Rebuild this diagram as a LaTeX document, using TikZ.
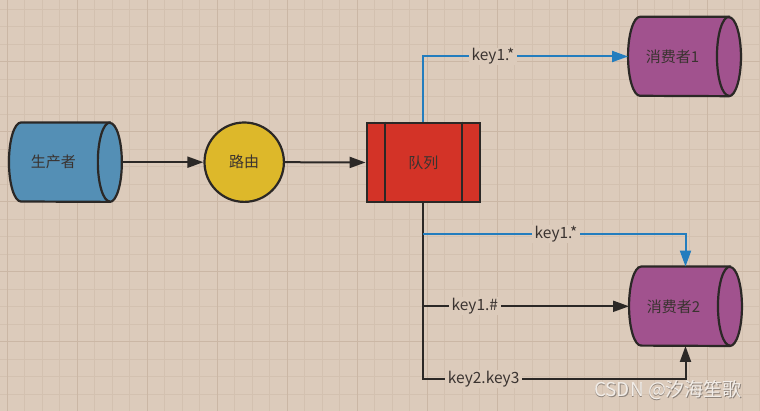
\documentclass[tikz,border=0pt]{standalone}
\usepackage{fontspec}
\setmainfont{Noto Sans CJK SC}
\usetikzlibrary{arrows.meta}
\definecolor{bg}{HTML}{DCCBBB}
\definecolor{gminor}{HTML}{D3C1B0}
\definecolor{gmajor}{HTML}{CBB7A5}
\definecolor{edgec}{HTML}{2B2826}
\definecolor{txtc}{HTML}{3A3330}
\definecolor{cblue}{HTML}{548FB5}
\definecolor{cyel}{HTML}{DDB82A}
\definecolor{cred}{HTML}{D33327}
\definecolor{cpur}{HTML}{A1528E}
\definecolor{lblue}{HTML}{237DBE}
\definecolor{wmc}{HTML}{F2EDE8}
\definecolor{wms}{HTML}{8E847C}
\newcommand\mycyl[2]{%
  \filldraw[fill=#2, shapeedge] ([xshift=-12pt]#1.north east) -- ([xshift=12pt]#1.north west)
    arc[start angle=90, end angle=270, x radius=12pt, y radius=39.5pt]
    -- ([xshift=-12pt]#1.south east)
    arc[start angle=-90, end angle=90, x radius=12pt, y radius=39.5pt] -- cycle;
  \draw[shapeedge] ([xshift=-12pt]#1.north east)
    arc[start angle=90, end angle=270, x radius=12pt, y radius=39.5pt];
}
\begin{document}
\begin{tikzpicture}[x=1pt,y=1pt,
  shapeedge/.style={draw=edgec, line width=2.2pt},
  box/.style={minimum width=112.5pt, minimum height=79pt, inner sep=0pt},
  txt/.style={text=txtc, font=\fontsize{15}{17}\selectfont, inner sep=0pt},
  lbl/.style={fill=bg, text=txtc, font=\fontsize{15.5}{17}\selectfont, inner xsep=3pt, inner ysep=1pt},
  blk/.style={draw=edgec, line width=2pt},
  blu/.style={draw=lblue, line width=2pt},
  tip/.style={-{Triangle[length=16pt,width=11pt]}},
]
\useasboundingbox (0,0) rectangle (760,411);
\fill[bg] (0,0) rectangle (760,411);
\foreach \i in {0,...,43} { \draw[gminor, line width=1pt] ({7.3+17.5*\i},0) -- ++(0,411); }
\foreach \i in {0,...,22} { \draw[gminor, line width=1pt] (0,{401.7-17.5*\i}) -- ++(760,0); }
\foreach \i in {0,...,10} { \draw[gmajor, line width=1.5pt] ({7.3+70*\i},0) -- ++(0,411); }
\foreach \i in {0,...,4} { \draw[gmajor, line width=1.5pt] (0,{349.3-70*\i}) -- ++(760,0); }

% shape frames
\node[box] (prod) at (65.4,248.8) {};
\node[box] (cons1) at (684.5,354.5) {};
\node[box] (cons2) at (685.5,104.7) {};
\mycyl{prod}{cblue}
\mycyl{cons1}{cpur}
\mycyl{cons2}{cpur}
\node[txt] (prodt) at ([xshift=-12pt]prod.center) {生产者};
\node[txt] (cons1t) at ([xshift=-12pt]cons1.center) {消费者1};
\node[txt] (cons2t) at ([xshift=-12pt]cons2.center) {消费者2};

\node[circle, shapeedge, fill=cyel, minimum size=79.4pt, inner sep=0pt, txt, text=txtc] (router) at (244.2,248.8) {路由};
\node[rectangle, shapeedge, fill=cred, minimum width=113.3pt, minimum height=79.6pt, inner sep=0pt, txt, text=txtc] (queue) at (423.35,248.5) {队列};
\draw[shapeedge] ([xshift=19.3pt]queue.north west) -- ([xshift=19.3pt]queue.south west);
\draw[shapeedge] ([xshift=-19pt]queue.north east) -- ([xshift=-19pt]queue.south east);

% connectors
\draw[blk, tip] (prod.east) -- (router.west);
\draw[blk, tip] (router.east) -- (queue.west);
\draw[blu, tip] (queue.north) |- node[lbl, pos=0.67] (l1) {key1.*} (cons1.west);

\coordinate (bot) at (423.35,31.7);
\coordinate (j1) at (423.35,177);
\draw[blk, tip] (queue.south) -- (bot) -| node[lbl, pos=0.115] (l4) {key2.key3} (cons2.south);
\draw[blu, tip] (j1) -| node[lbl, pos=0.253] (l2) {key1.*} (cons2.north);
\draw[blk, tip] (queue.south |- cons2.west) -- node[lbl, pos=0.25] (l3) {key1.\#} (cons2.west);

% watermark
\node[text=wms, font=\fontsize{19}{21}\selectfont, inner sep=0pt] (wms) at (668.9,20.1) {CSDN @汐海笙歌};
\node[text=wmc, font=\fontsize{19}{21}\selectfont, inner sep=0pt] (wm) at (668,21) {CSDN @汐海笙歌};
\end{tikzpicture}
\end{document}
